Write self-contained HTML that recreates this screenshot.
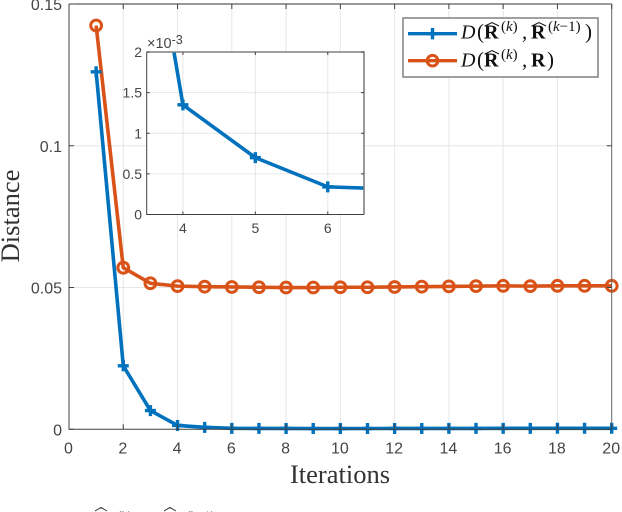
<!DOCTYPE html>
<html>
<head>
<meta charset="utf-8">
<title>Distance vs Iterations</title>
<style>
html,body{margin:0;padding:0;background:#fff;width:622px;height:512px;overflow:hidden}
svg{display:block}
text{font-family:"Liberation Sans",sans-serif}
.serif{font-family:"Liberation Serif",serif}
.tick{font-size:16px;fill:#454545}
.itick{font-size:14px;fill:#454545}
.lg{font-family:"Liberation Serif",serif;fill:#111;font-size:21px}
.lgb{font-family:"Liberation Serif",serif;fill:#111;font-size:20px;font-weight:bold}
.lgs{font-family:"Liberation Serif",serif;fill:#111;font-size:15px}
.lgi{font-family:"Liberation Serif",serif;fill:#111;font-size:20px;font-style:italic}
</style>
</head>
<body>
<svg id="chart" xmlns="http://www.w3.org/2000/svg" width="622" height="512" viewBox="0 0 622 512">
  <defs>
    <clipPath id="inset-clip"><rect x="147" y="52" width="217" height="162.5"/></clipPath>
  </defs>
  <g id="main-grid"></g>
  <g id="main-series"></g>
  <g id="main-axes"></g>
  <text class="serif" x="340" y="483" text-anchor="middle" font-size="26.5" fill="#333">Iterations</text>
  <text class="serif" transform="translate(19,216) rotate(-90)" text-anchor="middle" font-size="26.5" fill="#333">Distance</text>

  <g id="inset">
    <rect x="147" y="52" width="217" height="162.5" fill="#fff"/>
    <g id="inset-grid"></g>
    <g id="inset-series" clip-path="url(#inset-clip)"></g>
    <g id="inset-axes"></g>
    <text x="147" y="48" font-size="14.5" fill="#454545">×10<tspan font-size="12.5" dy="-4">-3</tspan></text>
  </g>

  <g>
    <rect x="403" y="18" width="195" height="59" fill="#fff" stroke="#808080" stroke-width="1.5"/>
    <g>
      <line x1="408" x2="457" y1="33.7" y2="33.7" stroke="#0072BD" stroke-width="3.4"/>
      <path d="M432.5 28V39.4M427 33.7H438" stroke="#0072BD" stroke-width="3.4" fill="none"/>
      <text x="461" y="38.5" class="lgi">D</text>
      <text x="477" y="38.5" class="lg">(</text>
      <text x="484" y="38.5" class="lgb">R</text>
      <path d="M485 26L492 22.5L499 26" fill="none" stroke="#111" stroke-width="1"/>
      <text x="501" y="31" class="lgs">(<tspan font-style="italic">k</tspan>)</text>
      <text x="522" y="38.5" class="lg">,</text>
      <text x="531" y="38.5" class="lgb">R</text>
      <path d="M532 26L539 22.5L546 26" fill="none" stroke="#111" stroke-width="1"/>
      <text x="548" y="31" class="lgs">(<tspan font-style="italic">k</tspan>−1)</text>
      <text x="585" y="38.5" class="lg">)</text>
    </g>
    <g>
      <line x1="408" x2="457" y1="60.7" y2="60.7" stroke="#D95319" stroke-width="3.4"/>
      <circle cx="432.5" cy="60.7" r="5.3" fill="none" stroke="#D95319" stroke-width="3"/>
      <text x="461" y="66.5" class="lgi">D</text>
      <text x="477" y="66.5" class="lg">(</text>
      <text x="484" y="66.5" class="lgb">R</text>
      <path d="M485 54L492 50.5L499 54" fill="none" stroke="#111" stroke-width="1"/>
      <text x="501" y="59" class="lgs">(<tspan font-style="italic">k</tspan>)</text>
      <text x="522" y="66.5" class="lg">,</text>
      <text x="531" y="66.5" class="lgb">R</text>
      <text x="547" y="66.5" class="lg">)</text>
    </g>
  </g>

  <g>
    <path d="M95 511L101 507.5L107 511M164 511L170 507.5L176 511" fill="none" stroke="#333" stroke-width="1"/>
    <text class="serif" x="117" y="520" font-size="13" fill="#333">(k)</text>
    <text class="serif" x="186" y="520" font-size="13" fill="#333">(k−1)</text>
  </g>
</svg>
<script>
var iterations = [1,2,3,4,5,6,7,8,9,10,11,12,13,14,15,16,17,18,19,20];
var blueValues = [0.1261,0.0224,0.0066,0.00135,0.0007,0.00034,0.00031,0.00029,0.00027,0.00027,0.00028,0.00029,0.0003,0.00031,0.00032,0.00033,0.00034,0.00035,0.00035,0.00036];
var orangeValues = [0.1424,0.057,0.0515,0.0505,0.0503,0.0502,0.0501,0.05,0.05,0.0501,0.0501,0.0502,0.0503,0.0504,0.0505,0.0506,0.0505,0.0506,0.0506,0.0506];
var xTicks = [0,2,4,6,8,10,12,14,16,18,20];
var yTicks = [0,0.05,0.1,0.15];
var yTickLabels = ['0','0.05','0.1','0.15'];
var insetXTicks = [4,5,6];
var insetYTicks = [0,0.0005,0.001,0.0015,0.002];
var insetYTickLabels = ['0','0.5','1','1.5','2'];

var NS = 'http://www.w3.org/2000/svg';
function sx(v){ return 69 + v * (611.7 - 69) / 20; }
function sy(v){ return 429.3 - v * (429.3 - 4) / 0.15; }
function ix(v){ return 146.7 + (v - 3.5) * (364 - 146.7) / 3; }
function iy(v){ return 214.5 - v * (214.5 - 52) / 0.002; }

function make(parent, tag, attrs, text){
  var el = document.createElementNS(NS, tag);
  for (var k in attrs) el.setAttribute(k, attrs[k]);
  if (text !== undefined) el.textContent = text;
  parent.appendChild(el);
  return el;
}
function points(xs, ys, fx, fy){
  return xs.map(function(x, i){ return fx(x).toFixed(2) + ',' + fy(ys[i]).toFixed(2); }).join(' ');
}
function plus(parent, x, y, color, name){
  var el = make(parent, 'path', {d:'M'+(x-5.5)+' '+y+'H'+(x+5.5)+'M'+x+' '+(y-5.5)+'V'+(y+5.5), stroke:color, 'stroke-width':3.4, fill:'none'});
  
  
}
function ring(parent, x, y, color, name){
  var el = make(parent, 'circle', {cx:x, cy:y, r:5.4, fill:'none', stroke:color, 'stroke-width':3});
  
  
}

var grid = document.getElementById('main-grid');
xTicks.forEach(function(t){
  if (t === 0 || t === 20) return;
  var g = make(grid, 'line', {x1:sx(t), x2:sx(t), y1:4, y2:429.3, stroke:'#e6e6e6', 'stroke-width':1});
  
  
});
yTicks.forEach(function(t){
  if (t === 0 || t === 0.15) return;
  var g = make(grid, 'line', {x1:69, x2:611.7, y1:sy(t), y2:sy(t), stroke:'#e6e6e6', 'stroke-width':1});
  
  
});

var series = document.getElementById('main-series');
var blueLine = make(series, 'polyline', {points:points(iterations, blueValues, sx, sy), fill:'none', stroke:'#0072BD', 'stroke-width':3.6, 'stroke-linejoin':'round'});


var orangeLine = make(series, 'polyline', {points:points(iterations, orangeValues, sx, sy), fill:'none', stroke:'#D95319', 'stroke-width':3.6, 'stroke-linejoin':'round'});


iterations.forEach(function(it, i){
  plus(series, sx(it), sy(blueValues[i]), '#0072BD', 'estimate-change-point');
  ring(series, sx(it), sy(orangeValues[i]), '#D95319', 'estimate-error-point');
});

var axes = document.getElementById('main-axes');
var frame = make(axes, 'path', {d:'M69 4V429.3H611.7', fill:'none', stroke:'#404040', 'stroke-width':1});


var frame2 = make(axes, 'path', {d:'M69 4H611.7', fill:'none', stroke:'#333', 'stroke-width':1});


var frame3 = make(axes, 'path', {d:'M611.7 4V429.3', fill:'none', stroke:'#666', 'stroke-width':1});


xTicks.forEach(function(t){
  var m = make(axes, 'path', {d:'M'+sx(t)+' 429.3v-5M'+sx(t)+' 4v5', stroke:'#404040', 'stroke-width':1, fill:'none'});
  
  
  var l = make(axes, 'text', {x:sx(t) - 0.5, y:453.5, 'text-anchor':'middle', 'class':'tick'}, String(t));
  
  
});
yTicks.forEach(function(t, i){
  var m = make(axes, 'path', {d:'M69 '+sy(t)+'h5M611.7 '+sy(t)+'h-5', stroke:'#404040', 'stroke-width':1, fill:'none'});
  
  
  var l = make(axes, 'text', {x:62, y:sy(t) + 6, 'text-anchor':'end', 'class':'tick'}, yTickLabels[i]);
  
  
});

var igrid = document.getElementById('inset-grid');
insetXTicks.forEach(function(t){
  var g = make(igrid, 'line', {x1:ix(t), x2:ix(t), y1:52, y2:214.5, stroke:'#e6e6e6', 'stroke-width':1});
  
  
});
insetYTicks.forEach(function(t){
  if (t === 0 || t === 0.002) return;
  var g = make(igrid, 'line', {x1:146.7, x2:364, y1:iy(t), y2:iy(t), stroke:'#e6e6e6', 'stroke-width':1});
  
  
});

var iseries = document.getElementById('inset-series');
var insetLine = make(iseries, 'polyline', {points:points(iterations, blueValues, ix, iy), fill:'none', stroke:'#0072BD', 'stroke-width':3.6, 'stroke-linejoin':'round'});


iterations.forEach(function(it, i){
  if (it >= 3.5 && it <= 6.5) plus(iseries, ix(it), iy(blueValues[i]), '#0072BD', 'inset-estimate-change-point');
});

var iaxes = document.getElementById('inset-axes');
var iframe = make(iaxes, 'path', {d:'M146.7 52H364V214.5', fill:'none', stroke:'#808080', 'stroke-width':1.6});


var iframe2 = make(iaxes, 'path', {d:'M146.7 52V214.5H364', fill:'none', stroke:'#404040', 'stroke-width':1});


insetXTicks.forEach(function(t){
  var m = make(iaxes, 'path', {d:'M'+ix(t)+' 214.5v-3M'+ix(t)+' 52v3', stroke:'#404040', 'stroke-width':1, fill:'none'});
  
  
  var l = make(iaxes, 'text', {x:ix(t), y:233, 'text-anchor':'middle', 'class':'itick'}, String(t));
  
  
});
insetYTicks.forEach(function(t, i){
  var m = make(iaxes, 'path', {d:'M146.7 '+iy(t)+'h3M364 '+iy(t)+'h-3', stroke:'#404040', 'stroke-width':1, fill:'none'});
  
  
  var l = make(iaxes, 'text', {x:142, y:iy(t) + 5, 'text-anchor':'end', 'class':'itick'}, insetYTickLabels[i]);
  
  
});
</script>
</body>
</html>
